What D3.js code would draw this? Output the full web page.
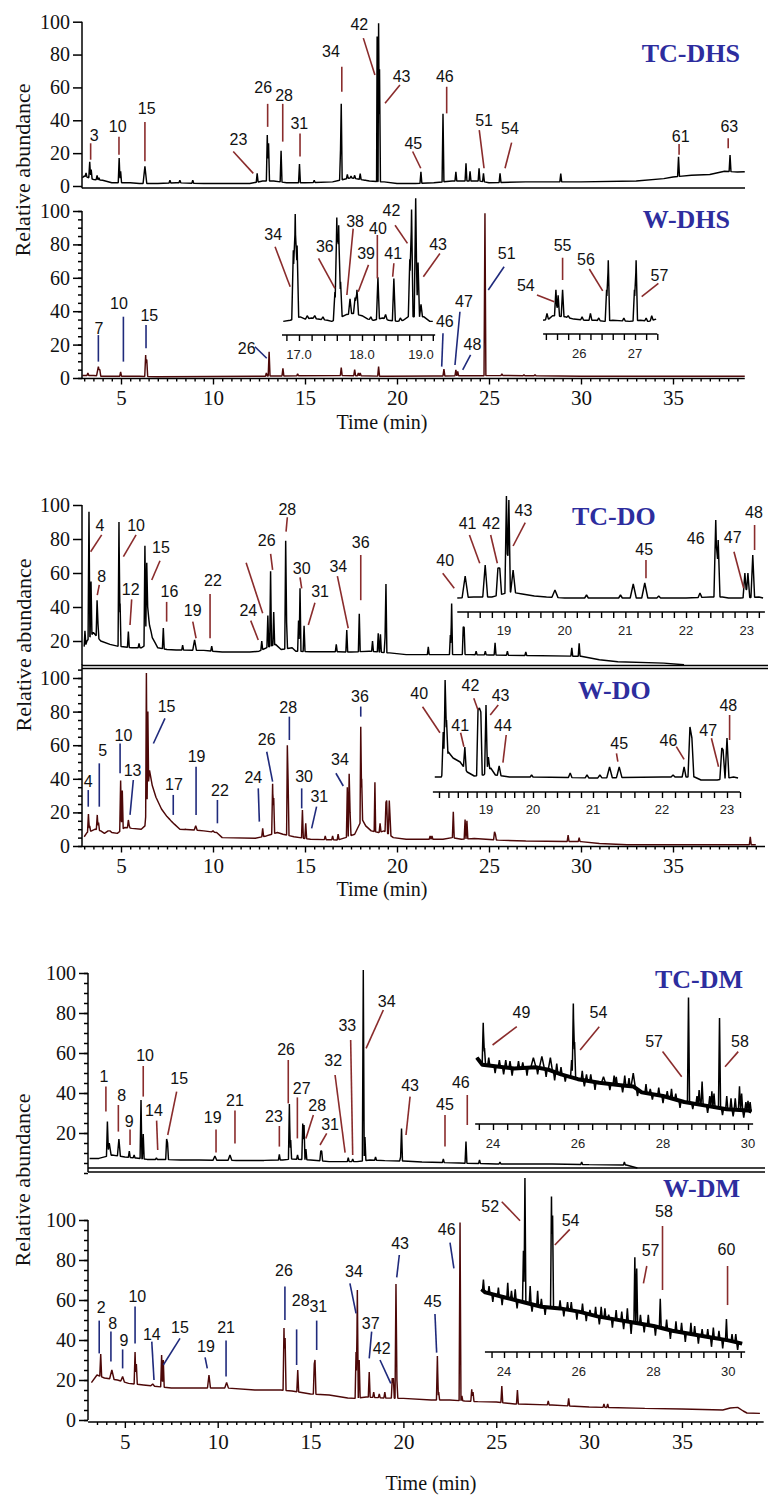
<!DOCTYPE html>
<html><head><meta charset="utf-8">
<script src="https://cdn.jsdelivr.net/npm/d3@7"></script>
<style>body{margin:0;background:#fff}</style>
</head><body>
<svg id="c" width="777" height="1507" xmlns="http://www.w3.org/2000/svg"></svg>
<script>
// ---------------- DATA ----------------
const yTicks = [0, 20, 40, 60, 80, 100];
const yTicksNoZero = [20, 40, 60, 80, 100];
const timeTicks = [5, 10, 15, 20, 25, 30, 35];
const panelNames = ["TC-DHS", "W-DHS", "TC-DO", "W-DO", "TC-DM", "W-DM"];
const yTitle = "Relative abundance";
const xTitle = "Time (min)";

// traces: baseline [time, %] and peaks [time, %apex, halfwidth?] (apex below baseline = dip)
const tcDhsBase = [[2.9,5],[3.0,6],[3.5,4],[4.0,3.5],[4.5,2],[5.5,2],[6.0,1.5],[7.0,1.5],[8.0,2],[9.5,1.5],[12.0,1.5],[12.7,3],[13.3,3],[14.0,2],[15.0,2],[16.5,2.5],[17.5,5],[18.5,3],[19.3,2.5],[20.0,1.5],[21.0,1.5],[22.0,2],[23.0,3],[24.5,3],[25.0,2],[27.0,2.5],[30.0,2.5],[33.0,3],[34.5,4.5],[35.0,5.5],[36.0,6.5],[37.0,7],[37.8,9],[38.5,8.5],[38.9,8.7]];
const tcDhsPeaks = [[3.1,8],[3.3,14.8],[3.38,10],[3.7,6.5],[3.8,5],[4.9,17],[4.98,9],[6.3,12,0.1],[7.66,3.5],[8.2,3.5],[8.9,3.5],[12.4,7.7],[12.95,31],[13.02,26],[13.7,21.5],[14.7,13.4],[15.5,3.5],[16.93,22],[16.97,50],[17.3,7],[17.5,6],[17.7,6.5],[18.0,7.5],[18.3,3.5],[18.92,91,0.03],[19.0,99,0.03],[19.05,71,0.05],[21.3,8.7],[22.5,44],[23.2,8.7],[23.75,13.8],[23.97,9],[24.46,10.7],[24.7,7.7],[25.6,7.7],[28.9,7.5],[35.3,17.8],[38.1,18.9]];
const tcDhsLabels = [["3",3.55,31,3.35,26,3.35,16],["10",4.82,36,4.89,30,4.89,19],["15",6.4,47,6.3,39,6.3,15],["23",11.38,28,11.1,21,12.19,7.7],["26",12.73,60,12.97,50,12.97,36],["28",13.86,55,13.79,50,13.79,27],["31",14.69,38,14.73,32,14.73,18],["34",16.41,82,17.0,72.6,17.0,57.4],["42",17.95,98,18.17,90,18.8,67.6],["43",20.25,66.5,20.16,61.5,19.35,50.3],["45",20.89,26,20.85,21,21.29,10.8],["46",22.6,66.5,22.7,60.4,22.7,44.2],["51",24.73,40,24.47,34,24.73,10.8],["54",26.14,35,26.23,26.4,25.87,10.8],["61",35.42,30.4,35.33,25.6,35.33,19],["63",38.06,36,38.0,29,38.0,23]];

const wDhsBase = [[2.9,1.5],[3.5,1.5],[4.0,1],[6.0,1],[7.0,0.8],[12.5,1],[13.3,1.2],[17.0,1.5],[19.5,1],[22.0,1.2],[26.0,1.5],[30.0,1],[38.9,1]];
const wDhsPeaks = [[3.2,3],[3.77,6.8,0.1],[3.85,5],[4.98,3.6],[6.34,13.8],[6.4,11],[12.9,3],[13.05,15.7],[13.8,5.8],[14.6,2.5],[16.97,6.2],[17.7,5],[17.9,3],[18.0,3],[19.0,6.8],[22.55,5.4],[23.2,4.8],[23.3,4],[24.78,98.6],[25.7,2.5],[26.9,2],[27.5,2]];
const wDhsLabels = [["7",3.8,29.8,3.77,25.7,3.77,9.8],["10",4.89,44.7,5.13,36.7,5.13,9.8],["15",6.54,37.7,6.36,31.7,6.36,17.8],["26",11.83,17.8,12.28,18.7,12.92,11.8],["46",22.6,33.7,22.5,26.8,22.43,6.8],["47",23.64,45.7,23.42,39.7,23.15,7.8],["48",24.1,19.8,24.0,13.8,23.57,4.8],["51",25.96,74.7,25.82,66.6,24.96,52.7]];

const wDhsInsetABase = [[16.75,5],[16.86,6],[17.02,9],[17.1,7],[17.2,8],[17.3,7],[17.45,6],[17.52,5],[17.68,9],[17.75,11],[17.85,12],[18.0,10],[18.1,7],[18.2,6],[18.35,8],[18.45,6],[18.6,5],[18.7,6],[18.78,9],[19.05,9],[19.15,5],[19.2,5]];
const wDhsInsetAPeaks = [[16.91,68],[16.94,100],[16.97,72],[17.13,10],[17.25,10],[17.38,9],[17.57,31],[17.6,97],[17.63,90],[17.66,40],[17.81,25],[17.89,26],[17.92,33],[18.15,9],[18.27,44],[18.4,11],[18.54,43],[18.65,8],[18.81,60],[18.84,104],[18.91,114],[18.95,57],[19.0,20]];
const wDhsInsetALabels = [["34",16.59,82,16.62,71,16.86,35.7],["36",17.41,71,17.31,60.8,17.57,34.2],["38",17.89,93,17.86,87,17.76,28.3],["39",18.07,65,18.11,55,17.94,31.2],["40",18.27,87,18.26,81.4,18.26,43],["41",18.53,65,18.54,56.4,18.52,44.5],["42",18.5,103.5,18.56,90,18.77,74],["43",19.29,73,19.32,65,19.04,44.5]];
const wDhsInsetATicks = ["17.0", "18.0", "19.0"];

const wDhsInsetBBase = [[25.35,6],[25.45,7],[25.52,10],[25.75,9],[25.9,7],[26.1,6],[26.3,6],[26.45,5],[26.6,6],[26.9,5],[27.1,6],[27.25,5],[27.38,7]];
const wDhsInsetBPeaks = [[25.42,12],[25.58,33],[25.62,28],[25.7,33],[25.8,10],[26.05,9],[26.2,12],[26.35,8],[26.49,33],[26.52,59],[26.8,8],[26.99,33],[27.02,59],[27.2,8],[27.3,10]];
const wDhsInsetBLabels = [["54",25.04,37,25.24,28.3,25.55,22.4],["55",25.7,71.7,25.7,61.3,25.7,41.6],["56",26.12,59.3,26.18,51.3,26.42,31.9],["57",27.44,45.4,27.42,38.7,27.12,26.8]];
const wDhsInsetBTicks = ["26", "27"];

const tcDoBase = [[3.0,14.7],[3.15,20],[3.5,25],[3.9,20],[4.4,18],[4.8,17],[5.6,16],[6.1,16],[6.25,17],[6.45,40],[6.55,30],[6.7,22],[6.85,19],[7.0,16],[7.5,15],[8.0,14.7],[9.5,14.5],[10.5,13.5],[12.0,13.5],[12.5,14],[12.9,16],[13.4,18],[13.7,15],[14.3,16],[14.5,14],[15.3,13.7],[16.8,13.7],[17.5,13.5],[18.5,14],[19.6,13],[20.5,12],[22.0,12],[24.0,12],[25.0,11.8],[27.0,11.5],[30.0,11],[31.0,9],[32.0,7.8],[34.5,7],[35.6,6]];
const tcDoPeaks = [[3.04,26],[3.26,96],[3.37,55],[3.7,44],[3.75,30],[4.89,90],[4.95,42],[5.4,25.5],[5.98,18.6],[6.3,76],[6.4,66],[6.52,32,0.12],[7.3,27.6],[8.35,17.6],[9.0,20.6,0.1],[9.93,17],[12.65,20],[12.98,35],[13.13,61],[13.3,37],[13.95,79],[14.0,31],[14.65,32],[14.73,51],[14.95,29],[16.7,18],[17.27,26.5],[17.95,36],[18.67,20],[18.98,24.5],[19.1,24],[19.35,22],[19.4,53.5],[21.7,16.5],[22.9,23.5],[22.97,42],[23.6,28.4],[23.65,28],[24.3,14],[24.8,14],[25.33,19],[26.0,14],[27.0,13.5],[29.5,16],[29.9,18.6]];
const tcDoLabels = [["4",3.86,88,3.95,82.4,3.35,72.5],["8",3.95,58,3.82,53,3.71,47],["10",5.82,88,5.82,82.4,5.13,69.6],["12",5.53,50.4,5.58,44.5,5.49,29.4],["15",7.17,75,7.12,67.2,6.67,55.9],["16",7.63,49,7.48,43,7.48,31.4],["19",8.9,37.8,8.9,31.4,9.08,21.6],["22",10.0,55.5,9.84,47.6,9.84,21.6],["24",11.92,37.8,12.05,32,12.46,20.6],["",11.8,66,11.8,66,12.7,36.3],["26",12.92,79.4,13.13,71.2,13.24,61.8],["28",14.04,97.5,14.04,92.8,13.97,84.3],["30",14.82,62.7,14.73,57.4,14.82,51],["31",15.82,49,15.54,42.5,15.18,29.4],["34",16.81,63.7,16.76,58.2,17.35,27.5],["36",18.03,77.8,18.03,70.6,18.03,44]];

const tcDoInsetBase = [[18.23,2],[18.5,3],[18.8,3],[19.1,8],[19.3,6],[19.5,4],[19.7,3],[20.0,2],[21.0,2],[22.0,2],[22.4,3],[22.6,3],[22.7,2],[22.9,2],[23.2,3],[23.27,2]];
const tcDoInsetPeaks = [[18.36,24,0.05],[18.69,35,0.04],[18.9,32],[18.93,32],[19.04,104,0.025],[19.08,100,0.025],[19.15,30,0.04],[19.84,10,0.05],[20.36,5],[20.92,5],[21.13,16,0.05],[21.32,17,0.05],[21.55,4],[22.23,7],[22.49,80],[22.53,60],[22.97,27],[23.02,27],[23.1,45]];
const tcDoInsetLabels = [["40",18.03,39.3,17.99,26.7,18.18,11.7],["41",18.4,76.7,18.43,65,18.6,36.7],["42",18.79,76.7,18.78,65,18.89,36.7],["43",19.32,90,19.35,77.3,19.15,54],["45",21.31,50.7,21.34,40,21.34,21.7],["46",22.16,61.7],["47",22.77,62.7,22.79,48.3,22.95,11.7],["48",23.12,87.3,23.13,75,23.13,50]];
const doInsetTicks = [19, 20, 21, 22, 23];

const wDoBase = [[3.0,5.5],[3.15,8],[3.4,9],[3.6,10],[3.9,9],[4.1,7.5],[4.3,9],[4.5,8],[4.8,7.5],[5.2,11],[5.6,10.5],[6.1,10],[6.3,12],[6.55,45],[6.7,36],[6.9,29],[7.2,22],[7.5,17.5],[7.9,13],[8.2,10],[9.0,9.5],[9.5,9],[10.2,8],[10.5,5],[12.3,4.6],[12.9,6],[13.5,8],[13.8,7],[14.4,5.5],[15.3,4],[16.8,3.6],[17.2,5],[17.7,7],[18.1,16],[18.3,12],[18.6,9],[19.0,8],[19.3,9],[19.8,5],[20.5,4],[22.5,4],[23.0,5],[23.5,4],[24.2,4.5],[25.5,3.5],[27.0,3],[30.0,2.6],[31.0,1.5],[32.5,0.8],[39.5,0.8]];
const wDoPeaks = [[3.23,19],[3.3,12],[3.71,18.5],[3.78,14],[4.4,9,0.1],[4.98,39],[5.07,33],[5.4,15.5],[5.45,12],[6.38,103,0.04],[6.46,80,0.04],[7.76,14.5,0.1],[8.5,10],[9.06,12,0.08],[10.0,9,0.08],[12.7,10.5],[13.24,37],[13.3,28.6],[14.04,60,0.04],[14.08,40],[14.86,21.4],[15.04,13.5],[16.1,6],[16.5,6],[16.8,7],[17.3,35],[17.4,43],[17.45,20],[18.03,71,0.04],[18.08,40],[18.8,38,0.04],[19.08,13.5],[19.4,26],[19.44,27],[19.58,27],[19.62,18],[21.8,6],[21.9,6],[23.06,20.4],[23.7,15.8],[23.8,15],[25.3,8.5],[25.35,7],[29.3,6.5],[29.9,5],[39.2,5.5]];
const wDoLabels = [["4",3.22,38.3,3.22,33.3,3.22,23.4],["5",4.0,56.7,3.82,49.2,3.82,23.4],["10",5.13,66,4.95,61,4.95,43.3],["13",5.63,45.2,5.67,39.3,5.49,18.5],["15",7.48,83,7.39,76,6.76,61],["17",7.88,36.9,7.84,30.4,7.84,18.5],["19",9.11,53.2,9.08,47.2,9.08,18.5],["22",10.38,33,10.24,27.4,10.24,13.5],["24",12.19,40.9,12.46,34.3,12.52,14.5],["26",12.92,63.5,12.92,56.1,13.24,38.3],["28",14.09,82.5,14.15,77,14.15,63.1],["30",14.95,41.3,14.82,34.3,14.82,22.4],["31",15.78,29.4,15.63,23.4,15.36,10.5],["34",16.9,51.2,16.68,43.3,17.08,35.7],["36",17.99,88.9,18.03,83,18.03,77]];

const wDoInsetBase = [[17.91,3],[18.05,3],[18.2,28],[18.3,22],[18.45,18],[18.6,8],[18.75,4],[18.95,5],[19.1,12],[19.2,5],[19.5,3],[20.0,3],[21.0,2],[22.0,3],[22.5,3],[22.6,0],[22.85,0],[23.1,3],[23.17,2]];
const wDoInsetPeaks = [[18.09,48],[18.13,100,0.025],[18.16,60],[18.55,33],[18.83,70],[18.86,72],[18.89,68],[19.0,75],[19.05,23],[19.28,14,0.04],[19.97,5],[20.62,7],[20.9,5],[21.1,5],[21.24,13,0.04],[21.38,13,0.04],[22.17,5],[22.34,13],[22.43,53],[22.46,42],[22.92,32],[22.94,30],[23.0,42]];
const wDoInsetLabels = [["40",17.58,86.7,17.65,73.3,18.02,47.3],["41",18.45,55,18.46,47.3,18.53,33.3],["42",18.67,95,18.74,81.7,18.83,70],["43",19.31,85,19.26,75,19.09,65],["44",19.36,55,19.43,45,19.36,17.3],["45",21.38,36.7,21.34,26.7,21.36,18.3],["46",22.1,40,22.22,33.3,22.34,20.7],["47",22.71,50,22.76,41.7,22.87,13.3],["48",23.02,75,23.04,65,23.04,40]];

const tcDmBase = [[3.1,7.3],[3.6,7.3],[4.3,9],[5.0,8],[5.6,7.5],[6.2,6.8],[7.0,6.8],[8.0,6.5],[9.0,6.5],[11.0,6.3],[12.5,6.3],[13.5,6.5],[14.0,7],[15.0,6.5],[16.0,5.7],[17.5,5.7],[18.2,6.5],[19.0,6.2],[20.0,6],[21.0,5.5],[23.0,5],[25.0,4.5],[28.0,4.5],[30.0,4.2],[32.0,4.0],[32.6,2.5]];
const tcDmPeaks = [[4.06,25.7],[4.16,15,0.1],[4.68,17,0.08],[5.24,11],[5.5,9],[5.87,36.5],[5.99,19.5],[6.7,7.5],[7.25,17],[7.3,15],[9.85,8.5,0.1],[10.66,9,0.1],[13.32,9.3],[13.86,34.5],[13.93,16.5],[14.3,9],[14.58,24.8],[14.65,24],[14.75,12],[15.55,11],[15.6,11],[17.03,7.7],[17.27,7],[17.84,101.5],[17.93,18],[18.5,8],[19.85,8],[19.9,22.3],[22.15,7],[23.37,15.7],[24.1,6.5],[25.2,5.5],[29.6,5.5],[31.9,5.5]];
const tcDmLabels = [["1",3.88,48.2,3.98,43.2,3.98,30.7],["8",4.83,39,4.65,34,4.65,20.7],["9",5.24,25.7,5.28,21.8,5.28,14],["10",6.09,59,5.99,53.5,5.99,38.2],["14",6.57,31.5,6.71,26.2,6.77,11.5],["15",7.93,47.3,7.79,40.7,7.31,19],["19",9.73,27.8,9.91,21.8,9.91,10.2],["21",10.93,36.5,10.93,31.2,10.93,14.8],["23",13.03,28.5,13.32,23.5,13.32,13.2],["26",13.68,61.8,13.8,56.5,13.8,34.8],["27",14.52,42.3,14.29,37.8,14.29,17.3],["28",15.36,34,15.15,29,14.75,17.3],["31",16.05,24.5,15.87,19.8,15.51,14],["32",16.22,56.5,16.32,49,16.86,10.2],["33",16.98,74,17.16,66.5,17.27,9],["34",19.1,85.7,18.92,81.5,17.99,62.3],["43",20.36,44,20.36,38.2,20.14,19],["45",22.24,34.5,22.24,29,22.24,13.2],["46",23.09,45.2,23.44,39,23.44,24]];

const tcDmInsetBase = [[23.62,52],[23.75,46],[24.0,45],[24.5,43],[25.0,44],[25.3,42],[25.6,38],[26.0,34],[26.5,31],[27.0,29],[27.3,28],[27.5,23],[28.0,20],[28.5,15],[29.0,12],[29.5,9],[30.0,8],[30.08,7]];
const tcDmInsetPeaks = [[23.77,81],[23.8,60],[23.9,52],[24.05,39],[24.15,50],[24.25,38],[24.3,50],[24.4,49],[24.45,37],[24.6,49],[24.7,48],[24.8,37],[24.95,52,0.06],[25.05,38],[25.15,53,0.06],[25.25,36],[25.35,52,0.05],[25.45,33],[25.5,47],[25.6,44],[25.7,32],[25.85,50],[25.89,97],[25.92,65],[26.1,41],[26.15,28],[26.2,38],[26.3,38],[26.4,25],[26.6,36,0.05],[26.75,25],[26.85,37],[26.9,36],[27.05,23],[27.1,37],[27.2,35],[27.3,39,0.05],[27.4,20],[27.6,30],[27.7,26],[27.75,17],[27.9,27],[28.0,14],[28.1,24],[28.2,26],[28.3,22],[28.4,10],[28.6,102],[28.7,9],[28.8,20],[28.85,25],[28.92,32],[29.05,6],[29.1,20],[29.15,24],[29.2,22],[29.33,85],[29.4,4],[29.5,20],[29.6,18],[29.65,3],[29.7,18],[29.8,28],[29.85,22],[29.9,2],[29.95,15],[30.0,16],[30.05,15]];
const tcDmInsetLabels = [["49",24.67,89.4,24.56,77.8,23.99,62.5],["54",26.48,89.4,26.5,77.8,26.05,58.3],["57",27.79,65.3,27.99,57,28.44,36],["58",29.81,65.3,29.77,57,29.46,44.4]];
const dmInsetTicks = [24, 26, 28, 30];

const wDmBase = [[3.2,18.7],[3.5,22.5],[3.9,21],[4.6,20],[5.2,18.3],[6.0,17.5],[7.5,16],[9.0,16],[10.5,16],[12.0,15],[13.4,15],[14.0,14.5],[15.0,13],[16.0,12.5],[17.0,11],[17.4,10.8],[18.0,11.5],[19.0,11],[20.0,10.8],[21.5,10],[22.5,10],[23.3,9.5],[24.0,9.2],[25.0,9],[26.0,8],[28.0,7.5],[30.0,6.5],[33.0,5.8],[35.0,5.5],[37.2,5],[37.6,6],[38.0,6.3],[38.3,4.5],[38.5,3.5],[39.2,3.3]];
const wDmPeaks = [[3.7,33],[4.3,25,0.12],[4.88,21.7,0.1],[5.55,34],[5.62,28],[6.5,18,0.1],[6.98,32.5],[7.07,30],[9.53,22.5,0.08],[10.48,18.7,0.1],[13.57,46],[13.63,41],[14.31,25],[15.2,28],[15.24,30],[17.45,34],[17.52,65],[17.62,30],[18.16,24],[18.4,14],[18.7,13],[19.0,14],[19.4,21],[19.46,21],[19.6,68],[19.65,20],[21.83,32],[21.9,14],[23.05,98.7],[23.15,12],[23.68,15.3],[23.75,14],[25.3,17],[26.14,15],[27.8,9.5],[28.9,10.8],[30.8,8],[31.0,8]];
const wDmLabels = [["2",3.72,56.3,3.62,49.7,3.62,33.3],["8",4.34,48.3,4.25,44.2,4.25,29.2],["9",4.95,40,4.88,35.3,4.88,25.8],["10",5.67,62,5.55,56.7,5.55,38.3],["14",6.45,43,6.45,39.2,6.57,20],["15",7.97,46.3,7.97,40.8,7.07,27.5],["19",9.37,37,9.32,31.3,9.44,25.8],["21",10.45,46.3,10.45,39.7,10.45,21.7],["26",13.57,75,13.62,66.7,13.62,50],["28",14.47,60,14.25,45.3,14.25,27.5],["31",15.42,56.7,15.33,49.7,15.33,35],["34",17.34,74.2,17.12,68.3,17.45,53.3],["37",18.24,48.3,18.29,44.2,18.16,30.8],["42",18.83,35.8,18.74,30,19.32,18.3],["43",19.82,88.3,19.78,82.5,19.64,71.3],["45",21.58,59.2,21.7,53,21.79,33.7],["46",22.33,95.3,22.51,88.7,22.72,75.8]];

const wDmInsetBase = [[23.4,38],[23.5,36],[24.0,33],[24.5,30],[25.0,27],[25.5,26],[26.0,24],[26.5,21],[27.0,19],[27.5,17],[28.0,15],[28.5,12],[29.0,10],[29.5,8],[30.0,6],[30.37,4]];
const wDmInsetPeaks = [[23.45,44],[23.6,40],[23.7,30],[23.85,39],[23.95,28],[24.1,42],[24.2,37],[24.3,38],[24.35,26],[24.52,62],[24.56,107.5],[24.7,40],[24.75,24],[24.9,37],[25.0,32],[25.1,22],[25.27,96],[25.3,84],[25.5,31],[25.6,21],[25.7,30],[25.8,30],[25.95,19],[26.1,29],[26.2,18],[26.3,25],[26.45,27],[26.55,16],[26.6,27],[26.7,26],[26.8,22],[26.9,14],[27.0,25],[27.15,24],[27.2,13],[27.3,26],[27.4,10],[27.5,58],[27.55,51],[27.65,22],[27.75,11],[27.86,22],[28.05,9],[28.18,32],[28.35,19],[28.45,7],[28.6,18],[28.75,17],[28.85,5],[29.0,17],[29.1,15],[29.2,4],[29.3,13],[29.45,13],[29.55,2],[29.6,14],[29.75,12],[29.85,1],[29.95,19.4],[30.1,10],[30.2,10],[30.25,0]];
const wDmInsetLabels = [["52",23.63,89.6,23.94,92.7,24.43,80.8],["54",25.78,81.2,25.76,75.4,25.36,65.6],["57",27.92,62.5,27.82,52.5,27.73,41.7],["58",28.28,86.5,28.24,77.5,28.24,37.5],["60",29.95,63,29.98,52.5,29.98,28.1]];

// ---------------- DRAWING ----------------
const SERIF = "'Liberation Serif','Times New Roman',serif";
const SANS = "'Liberation Sans',Arial,sans-serif";
const RED = "#8a2c2c", BLUE = "#1f2a7c", MAROON = "#4d0808", TITLE = "#2d2d9e";
const svg = d3.select("#c");

function baseAt(base, t) {
  if (t <= base[0][0]) return base[0][1];
  for (let i = 1; i < base.length; i++) {
    if (t <= base[i][0]) {
      const [t0, v0] = base[i - 1], [t1, v1] = base[i];
      return v0 + (v1 - v0) * (t - t0) / (t1 - t0);
    }
  }
  return base[base.length - 1][1];
}
function buildTrace(base, peaks, defW) {
  const t0 = base[0][0], t1 = base[base.length - 1][0];
  const ts = new Set(base.map(d => d[0]));
  peaks.forEach(p => { const w = p[2] || defW; [p[0] - w, p[0], p[0] + w].forEach(t => ts.add(+t.toFixed(4))); });
  return [...ts].filter(t => t >= t0 && t <= t1).sort((a, b) => a - b).map(t => {
    const b0 = baseAt(base, t);
    let hi = b0, lo = b0;
    peaks.forEach(p => {
      const w = p[2] || defW, d = Math.abs(t - p[0]);
      if (d < w) {
        const val = b0 + (p[1] - baseAt(base, p[0])) * (1 - d / w);
        if (val > hi) hi = val;
        if (val < lo) lo = val;
      }
    });
    return [t, hi > b0 ? hi : lo];
  });
}
function drawTrace(x, y, base, peaks, w, color, sw, band) {
  const line = d3.line().x(d => x(d[0])).y(d => y(d[1]));
  if (band) svg.append("path").attr("d", line(base)).attr("fill", "none").attr("stroke", color).attr("stroke-width", band).attr("stroke-linejoin", "round");
  svg.append("path").attr("d", line(buildTrace(base, peaks, w))).attr("fill", "none").attr("stroke", color).attr("stroke-width", sw).attr("stroke-linejoin", "bevel");
}
function drawLabels(x, y, labels, color) {
  labels.forEach(l => {
    const [txt, tx, ty, a1, b1, a2, b2] = l;
    if (a1 !== undefined) svg.append("line").attr("x1", x(a1)).attr("y1", y(b1)).attr("x2", x(a2)).attr("y2", y(b2)).attr("stroke", color).attr("stroke-width", 1.6);
    if (txt) svg.append("text").attr("x", x(tx)).attr("y", y(ty)).attr("text-anchor", "middle").attr("dominant-baseline", "central")
      .attr("font-family", SANS).attr("font-size", 16).attr("fill", "#111").text(txt);
  });
}
function hline(x1, x2, yy, sw) {
  svg.append("line").attr("x1", x1).attr("x2", x2).attr("y1", yy).attr("y2", yy).attr("stroke", "#000").attr("stroke-width", sw || 1.5);
}
function yAxis(y, x0, major, labelled, minor, vFrom, vTo) {
  const g = svg.append("g").attr("transform", `translate(${x0},0)`);
  g.call(d3.axisLeft(y).tickValues(major).tickSize(9).tickSizeOuter(0).tickFormat(d => labelled.includes(d) ? d : ""));
  if (minor) g.append("g").call(d3.axisLeft(y).tickValues(minor).tickSize(4).tickSizeOuter(0).tickFormat(""));
  g.selectAll(".domain").remove();
  g.append("line").attr("x1", 0).attr("x2", 0).attr("y1", y(vFrom)).attr("y2", y(vTo));
  g.selectAll("line").attr("stroke", "#000").attr("stroke-width", 1.5);
  g.selectAll("text").attr("font-family", SERIF).attr("font-size", 20).attr("fill", "#111");
}
function xAxis(x, y0, tFrom, tTo, major, minor) {
  const g = svg.append("g").attr("transform", `translate(0,${y0})`);
  g.call(d3.axisBottom(x).tickValues(major).tickSize(6).tickSizeOuter(0).tickPadding(6));
  g.append("g").call(d3.axisBottom(x).tickValues(minor).tickSize(3).tickSizeOuter(0).tickFormat(""));
  g.selectAll(".domain").remove();
  g.append("line").attr("x1", x(tFrom)).attr("x2", x(tTo)).attr("y1", 0).attr("y2", 0);
  g.selectAll("line").attr("stroke", "#000").attr("stroke-width", 1.4);
  g.selectAll("text").attr("font-family", SERIF).attr("font-size", 21).attr("fill", "#111");
}
function insetAxis(x, y0, tFrom, tTo, step, labVals, labTexts, labY) {
  const g = svg.append("g").attr("transform", `translate(0,${y0})`);
  const k0 = Math.ceil(tFrom / step - 1e-6), k1 = Math.floor(tTo / step + 1e-6);
  const ticks = d3.range(k0, k1 + 1).map(k => +(k * step).toFixed(4));
  g.call(d3.axisBottom(x).tickValues(ticks).tickSize(6).tickSizeOuter(0).tickFormat(""));
  g.selectAll(".domain").remove();
  g.append("line").attr("x1", x(tFrom)).attr("x2", x(tTo)).attr("y1", 0).attr("y2", 0);
  g.selectAll("line").attr("stroke", "#000").attr("stroke-width", 1.4);
  labVals.forEach((v, i) => g.append("text").attr("x", x(v)).attr("y", labY).attr("text-anchor", "middle")
    .attr("font-family", SANS).attr("font-size", 13).attr("fill", "#222").text(labTexts[i]));
}
function title(txt, xx, yy, anchor) {
  svg.append("text").attr("x", xx).attr("y", yy).attr("text-anchor", anchor).attr("font-family", SERIF)
    .attr("font-weight", "bold").attr("font-size", 26).attr("fill", TITLE).text(txt);
}
function yLabel(cx, cy) {
  svg.append("text").attr("transform", `translate(${cx},${cy}) rotate(-90)`).attr("text-anchor", "middle")
    .attr("dominant-baseline", "central").attr("font-family", SERIF).attr("font-size", 22).attr("fill", "#111").text(yTitle);
}
function xLabel(cx, by) {
  svg.append("text").attr("x", cx).attr("y", by).attr("text-anchor", "middle").attr("font-family", SERIF)
    .attr("font-size", 20).attr("fill", "#111").text(xTitle);
}
const minorY = d3.range(0, 101, 5);
const minorY2 = d3.range(0, 106, 5);
const minorT = (a, b) => d3.range(a, b + 0.001, 0.5).filter(v => v % 5 !== 0);
const SW = 1.45;

// ===== Group 1: DHS =====
const xDhs = d3.scaleLinear().domain([0, 40]).range([29, 765]);
const yTcDhs = d3.scaleLinear().domain([0, 100]).range([186, 21.7]);
const yWDhs = d3.scaleLinear().domain([0, 100]).range([378, 211]);
drawTrace(xDhs, yTcDhs, tcDhsBase, tcDhsPeaks, 0.05, "#000", SW);
drawLabels(xDhs, yTcDhs, tcDhsLabels, RED);
yAxis(yTcDhs, 82, yTicks, yTicks, null, -1.3, 100);
hline(82, 745, 188, 1.5);
title(panelNames[0], 740, 62, "end");

drawTrace(xDhs, yWDhs, wDhsBase, wDhsPeaks, 0.05, MAROON, SW);
drawLabels(xDhs, yWDhs, wDhsLabels, BLUE);
yAxis(yWDhs, 82, yTicks, yTicks, minorY, 0, 100);
xAxis(xDhs, 378.5, 2.88, 38.9, timeTicks, minorT(3, 38.5));
title(panelNames[1], 730, 228, "end");

const xInA = d3.scaleLinear().domain([17, 18, 19]).range([299, 362, 421]);
const yInA = d3.scaleLinear().domain([0, 100]).range([327, 214]);
drawTrace(xInA, yInA, wDhsInsetABase, wDhsInsetAPeaks, 0.025, "#000", SW);
drawLabels(xInA, yInA, wDhsInsetALabels, RED);
insetAxis(xInA, 335, 16.73, 19.24, 0.2, [17, 18, 19], wDhsInsetATicks, 24);

const xInB = d3.scaleLinear().domain([26, 27]).range([579.3, 635]);
drawTrace(xInB, yInA, wDhsInsetBBase, wDhsInsetBPeaks, 0.025, "#000", SW);
drawLabels(xInB, yInA, wDhsInsetBLabels, RED);
insetAxis(xInB, 334, 25.35, 27.4, 0.2, [26, 27], wDhsInsetBTicks, 24);

yLabel(22, 170);
xLabel(382, 429);

// ===== Group 2: DO =====
const xDo = d3.scaleLinear().domain([0, 40]).range([29, 765]);
const yTcDo = d3.scaleLinear().domain([0, 100]).range([675, 505]);
const yWDo = d3.scaleLinear().domain([0, 100]).range([846, 678]);
drawTrace(xDo, yTcDo, tcDoBase, tcDoPeaks, 0.05, "#000", SW);
drawLabels(xDo, yTcDo, tcDoLabels, RED);
yAxis(yTcDo, 82, yTicksNoZero, yTicksNoZero, null, 5.9, 100);
hline(82, 768, 665.5, 1.5);
hline(82, 768, 668.5, 1.5);
title(panelNames[2], 572, 525, "start");

const xInDo = d3.scaleLinear().domain([19, 23]).range([504, 746.7]);
const yInDo = d3.scaleLinear().domain([0, 100]).range([600, 500]);
drawTrace(xInDo, yInDo, tcDoInsetBase, tcDoInsetPeaks, 0.03, "#000", SW);
drawLabels(xInDo, yInDo, tcDoInsetLabels, RED);
insetAxis(xInDo, 612, 18.23, 23.3, 0.2, doInsetTicks, doInsetTicks.map(String), 23);

drawTrace(xDo, yWDo, wDoBase, wDoPeaks, 0.05, MAROON, SW);
drawLabels(xDo, yWDo, wDoLabels, BLUE);
yAxis(yWDo, 82, yTicks, yTicks, minorY2, 0, 108);
xAxis(xDo, 846.5, 2.88, 40.0, timeTicks, minorT(3, 39.5));
title(panelNames[3], 578, 699, "start");

const xInWDo = d3.scaleLinear().domain([19, 20, 21, 22, 23]).range([486, 533, 593, 662, 727]);
const yInWDo = d3.scaleLinear().domain([0, 100]).range([780, 680]);
drawTrace(xInWDo, yInWDo, wDoInsetBase, wDoInsetPeaks, 0.03, "#000", SW);
drawLabels(xInWDo, yInWDo, wDoInsetLabels, RED);
insetAxis(xInWDo, 792, 17.87, 23.2, 0.2, doInsetTicks, doInsetTicks.map(String), 22);

yLabel(23, 645);
xLabel(382, 896);

// ===== Group 3: DM =====
const xDm = d3.scaleLinear().domain([0, 40]).range([32, 774.8]);
const yTcDm = d3.scaleLinear().domain([0, 100]).range([1173, 973]);
const yWDm = d3.scaleLinear().domain([0, 100]).range([1420, 1220]);
drawTrace(xDm, yTcDm, tcDmBase, tcDmPeaks, 0.05, "#000", SW);
drawLabels(xDm, yTcDm, tcDmLabels, RED);
yAxis(yTcDm, 88, yTicksNoZero, yTicksNoZero, minorY, 0.5, 100);
hline(88, 765, 1168, 1.5);
hline(88, 765, 1172, 1.5);
title(panelNames[4], 655, 988, "start");

const xInTcDm = d3.scaleLinear().domain([24, 30]).range([493, 748]);
const yInTcDm = d3.scaleLinear().domain([0, 100]).range([1120, 1000]);
drawTrace(xInTcDm, yInTcDm, tcDmInsetBase, tcDmInsetPeaks, 0.025, "#000", 1.5, 4);
drawLabels(xInTcDm, yInTcDm, tcDmInsetLabels, RED);
insetAxis(xInTcDm, 1124, 23.58, 30.12, 1 / 3, dmInsetTicks, dmInsetTicks.map(String), 24);

drawTrace(xDm, yWDm, wDmBase, wDmPeaks, 0.05, MAROON, SW);
drawLabels(xDm, yWDm, wDmLabels, BLUE);
yAxis(yWDm, 88, yTicks, yTicks, minorY, 0, 100);
xAxis(xDm, 1422, 3.02, 39.4, timeTicks, minorT(3.5, 39));
title(panelNames[5], 663, 1197, "start");

const xInWDm = d3.scaleLinear().domain([24, 30]).range([504, 728.3]);
const yInWDm = d3.scaleLinear().domain([0, 100]).range([1350, 1190]);
drawTrace(xInWDm, yInWDm, wDmInsetBase, wDmInsetPeaks, 0.025, "#000", 1.5, 4);
drawLabels(xInWDm, yInWDm, wDmInsetLabels, RED);
insetAxis(xInWDm, 1352, 23.49, 30.45, 1 / 3, dmInsetTicks, dmInsetTicks.map(String), 24);

yLabel(22, 1180);
xLabel(431, 1490);
</script>
</body></html>
